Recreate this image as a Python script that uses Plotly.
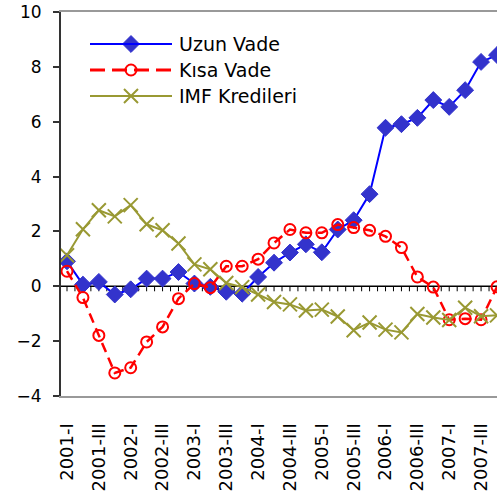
import plotly.graph_objects as go

quarters = [f"{y}-{q}" for y in range(2001, 2008) for q in ["I", "II", "III", "IV"]]
tick_labels = [quarters[i] for i in range(0, len(quarters), 2)]

series_names = ["Uzun Vade", "Kısa Vade", "IMF Kredileri"]
uzun_vade = [0.91, 0.06, 0.16, -0.30, -0.11, 0.28, 0.28, 0.52,
             0.10, -0.02, -0.20, -0.27, 0.34, 0.86, 1.23, 1.53,
             1.24, 2.07, 2.41, 3.36, 5.78, 5.91, 6.14, 6.79,
             6.54, 7.15, 8.18, 8.43]
kisa_vade = [0.55, -0.41, -1.79, -3.16, -2.97, -2.03, -1.48, -0.45,
             0.10, -0.05, 0.73, 0.73, 0.99, 1.58, 2.07, 1.95,
             1.95, 2.25, 2.14, 2.04, 1.82, 1.41, 0.34, -0.03,
             -1.22, -1.18, -1.22, -0.02]
imf_kredileri = [1.13, 2.08, 2.77, 2.55, 2.96, 2.26, 2.04, 1.56,
                 0.80, 0.62, 0.12, -0.03, -0.30, -0.57, -0.66, -0.88,
                 -0.85, -1.10, -1.60, -1.32, -1.58, -1.68, -1.01, -1.14,
                 -1.23, -0.78, -1.09, -1.06]

# ---- styles ----
W, H = 497, 491
ML, MR, MT, MB = 61, 0, 12, 95
X_RANGE = [-0.3767, 27]
Y_RANGE = [-4, 10]
FONT = "DejaVu Sans"

styles = [
    dict(line=dict(color="#0000FF", width=2),
         marker=dict(symbol="diamond", size=13, color="#3333CC",
                     line=dict(color="#3333CC", width=1)),
         legend_dash="solid", legend_width=2),
    dict(line=dict(color="#FF0000", width=2.5, dash="10px,6px"),
         marker=dict(symbol="circle-open", size=11, color="#FF0000",
                     line=dict(color="#FF0000", width=2)),
         legend_dash="15px,7px", legend_width=3),
    dict(line=dict(color="#999933", width=2),
         marker=dict(symbol="x-thin-open", size=14, color="#999933",
                     line=dict(color="#999933", width=2)),
         legend_dash="solid", legend_width=2),
]
series_values = [uzun_vade, kisa_vade, imf_kredileri]

fig = go.Figure()
for name, vals, st in zip(series_names, series_values, styles):
    fig.add_trace(go.Scatter(
        x=quarters, y=vals, name=name, mode="lines+markers",
        line=st["line"], marker=st["marker"], showlegend=False,
    ))

# ---- zero axis with tick marks every half category ----
shapes = [dict(type="line", xref="paper", yref="y", x0=0, x1=1, y0=0, y1=0,
               line=dict(color="#000000", width=1.5), layer="below")]
px_per_unit = (H - MT - MB) / (Y_RANGE[1] - Y_RANGE[0])
tick_len = 5 / px_per_unit
for k in range(0, 2 * len(quarters)):
    shapes.append(dict(type="line", xref="x", yref="y", x0=k / 2, x1=k / 2,
                       y0=0, y1=-tick_len, line=dict(color="#000000", width=1),
                       layer="below"))

# ---- manual legend (pixel layout) ----
plot_w = W - ML - MR
plot_h = H - MT - MB
leg_rows_px = [44, 70, 96]
leg_line_x = (90, 172)
leg_marker_x = 131
leg_text_x = 177
annotations = []
for name, st, ry in zip(series_names, styles, leg_rows_px):
    yp = (H - MB - ry) / plot_h
    shapes.append(dict(type="line", xref="paper", yref="paper",
                       x0=(leg_line_x[0] - ML) / plot_w, x1=(leg_line_x[1] - ML) / plot_w,
                       y0=yp, y1=yp,
                       line=dict(color=st["line"]["color"], width=st["legend_width"],
                                 dash=st["legend_dash"])))
    annotations.append(dict(text=name, xref="paper", yref="paper",
                            x=(leg_text_x - ML) / plot_w, y=yp,
                            xanchor="left", yanchor="middle", showarrow=False,
                            font=dict(family=FONT, size=19, color="#000000")))
    fig.add_trace(go.Scatter(
        x=[leg_marker_x], y=[ry], mode="markers", marker=st["marker"],
        xaxis="x3", yaxis="y3", showlegend=False, hoverinfo="skip",
    ))

fig.update_layout(
    template="none",
    width=W, height=H,
    margin=dict(l=ML, r=MR, t=MT, b=MB, pad=0),
    paper_bgcolor="white", plot_bgcolor="white",
    font=dict(family=FONT, color="#000000", size=17),
    showlegend=False,
    shapes=shapes,
    annotations=annotations,
    xaxis=dict(
        type="category", range=X_RANGE, automargin=False,
        tickmode="array", tickvals=tick_labels, ticktext=tick_labels,
        tickangle=-90, ticks="", showgrid=False, zeroline=False,
        showline=True, linecolor="#999999", linewidth=2, mirror=True,
        tickfont=dict(family=FONT, size=18),
        ticklabelstandoff=18,
    ),
    yaxis=dict(
        range=Y_RANGE, dtick=2, tick0=0, automargin=False,
        ticks="outside", ticklen=6, tickcolor="#333333", tickwidth=1.5,
        showgrid=False, zeroline=False,
        showline=True, linecolor="#333333", linewidth=2,
        tickfont=dict(family=FONT, size=17),
        ticklabelstandoff=8,
    ),
    xaxis3=dict(overlaying="x", range=[ML, W - MR], visible=False, automargin=False),
    yaxis3=dict(overlaying="y", range=[H - MB, MT], visible=False, automargin=False),
)

fig.write_html(
    "out.html",
    config={"displayModeBar": False},
    post_script="document.body.style.margin='0';document.body.style.overflow='hidden';",
)
